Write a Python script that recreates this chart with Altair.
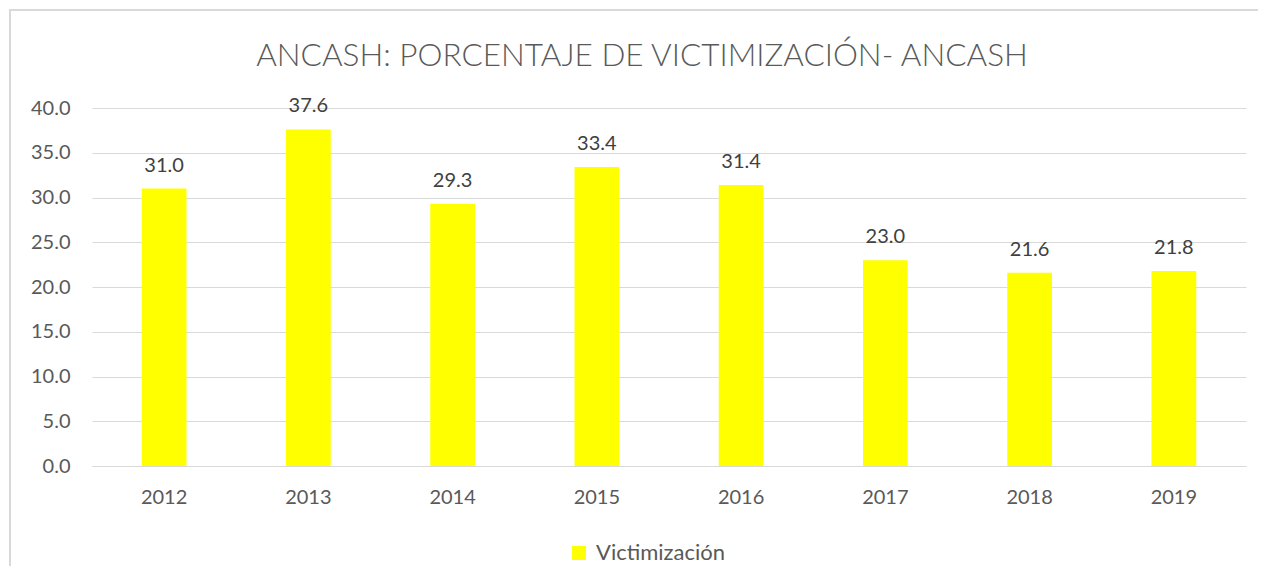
import altair as alt
import pandas as pd

years = ["2012", "2013", "2014", "2015", "2016", "2017", "2018", "2019"]
values = [31.0, 37.6, 29.3, 33.4, 31.4, 23.0, 21.6, 21.8]
series = ["Victimización"] * len(years)
title_text = ["ANCASH: PORCENTAJE DE VICTIMIZACIÓN- ANCASH"]

df = pd.DataFrame({"year": years, "value": values, "serie": series})
tdf = pd.DataFrame({"t": title_text})

FONT = "Lato"
W, H = 1154, 358

base = alt.Chart(df)

bars = base.mark_bar(color="#FFFF00").encode(
    x=alt.X("year:N", sort=years, title=None,
            scale=alt.Scale(paddingInner=0.69, paddingOuter=0.345),
            axis=alt.Axis(labelAngle=0, labelFontSize=20, labelColor="#595959",
                          labelFont=FONT, ticks=False, domain=True,
                          domainColor="#d9d9d9", labelPadding=21, grid=False)),
    y=alt.Y("value:Q", title=None,
            scale=alt.Scale(domain=[0, 40]),
            axis=alt.Axis(values=[0, 5, 10, 15, 20, 25, 30, 35, 40], format=".1f",
                          labelFontSize=20, labelColor="#595959", labelFont=FONT,
                          ticks=False, domain=False, gridColor="#d9d9d9",
                          labelPadding=22)),
    color=alt.Color("serie:N", scale=alt.Scale(range=["#FFFF00"]),
                    legend=alt.Legend(title=None, orient="none", legendX=476,
                                      legendY=434, direction="horizontal",
                                      symbolType="square", symbolSize=196,
                                      symbolStrokeWidth=0, labelFontSize=22,
                                      labelFont=FONT, labelColor="#595959",
                                      padding=0, labelOffset=6)),
)

labels = base.mark_text(baseline="alphabetic", dy=-17, fontSize=20, font=FONT,
                        color="#404040").encode(
    x=alt.X("year:N", sort=years),
    y="value:Q",
    text=alt.Text("value:Q", format=".1f"),
)

title = alt.Chart(tdf).mark_text(baseline="alphabetic", align="center",
                                  fontSize=31.5, font=FONT, fontWeight=300,
                                  color="#595959").encode(
    x=alt.value(550), y=alt.value(-42), text="t:N"
)

border = base.mark_rect(fill=None, stroke="#d9d9d9", strokeWidth=1.5).encode(
    x=alt.value(-82), x2=alt.value(1300), y=alt.value(-98), y2=alt.value(600)
)

chart = alt.layer(border, bars, labels, title).properties(
    width=W, height=H,
    padding={"left": 84, "top": 100, "right": 12, "bottom": 100},
    autosize=alt.AutoSizeParams(type="none"),
).configure_view(stroke=None)

chart.save("out.html", embed_options={"renderer": "svg", "actions": False})
